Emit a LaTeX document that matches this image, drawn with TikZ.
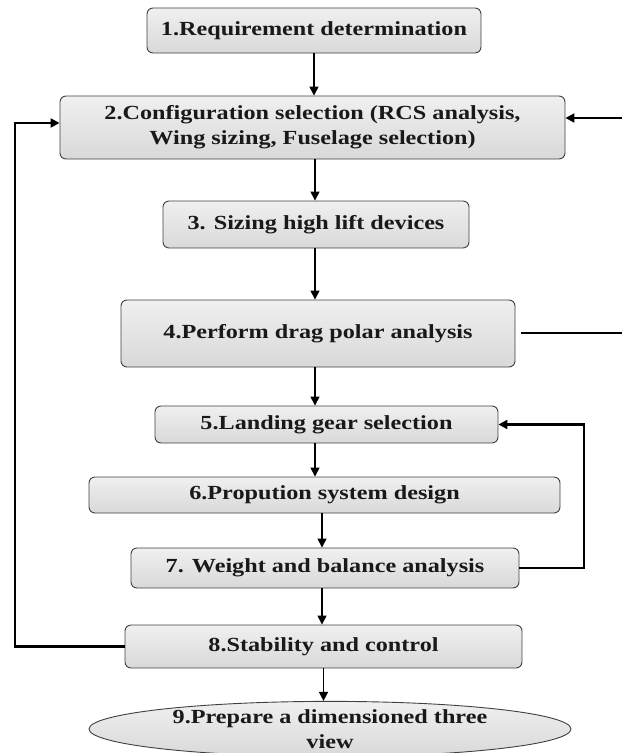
\documentclass[tikz,border=0pt]{standalone}
\usepackage{fontspec}
\setmainfont{Liberation Serif}[FakeStretch=1.21]
\usetikzlibrary{arrows.meta,shapes.geometric}

\begin{document}
\begin{tikzpicture}[x=1pt, y=-1pt,
	every node/.style={font=\fontsize{20}{25}\selectfont\bfseries, text=black!90, align=center},
	stage/.style={draw=black!75, line width=0.9pt, rounded corners=6pt, top color=gray!12, bottom color=gray!30, inner sep=0pt},
	>={Triangle[length=9pt, width=9pt]},
	arr/.style={->, line width=1.4pt},
	loop/.style={line width=2.6pt}]
	\useasboundingbox (0,0) rectangle (622,753);
	\node[stage, minimum width=334pt, minimum height=45pt] (n1) at (314,30.5) {1.Requirement determination};
	\node[stage, minimum width=505pt, minimum height=63pt] (n2) at (312.5,127.5) {2.Configuration selection (RCS analysis,\\ Wing sizing, Fuselage selection)};
	\node[stage, minimum width=306pt, minimum height=47pt] (n3) at (316,224.5) {3. Sizing high lift devices};
	\node[stage, minimum width=394pt, minimum height=67pt] (n4) at (318,333.5) {4.Perform drag polar analysis};
	\node[stage, minimum width=343pt, minimum height=37pt] (n5) at (326.5,424.5) {5.Landing gear selection};
	\node[stage, minimum width=471pt, minimum height=36pt] (n6) at (324.5,495) {6.Propution system design};
	\node[stage, minimum width=388pt, minimum height=40pt] (n7) at (325,568) {7. Weight and balance analysis};
	\node[stage, minimum width=397pt, minimum height=43pt] (n8) at (323.5,646.5) {8.Stability and control};
	\node[stage, ellipse, rounded corners=0pt, minimum width=482pt, minimum height=48pt] (n9) at (330,729) {9.Prepare a dimensioned three\\ view};
	\coordinate (l2) at (15,123);
	\coordinate (r5) at (584,424.5);
	\coordinate (r2) at (622,118);
	\coordinate (r4) at (622,333);

	\draw[arr] (n1.south) -- (n1.south |- n2.north);
	\draw[arr] ([xshift=2.5pt]n2.south) -- ([xshift=2.5pt]n2.south |- n3.north);
	\draw[arr] ([xshift=-1pt]n3.south) -- ([xshift=-1pt]n3.south |- n4.north);
	\draw[arr] ([xshift=-3pt]n4.south) -- ([xshift=-3pt]n4.south |- n5.north);
	\draw[arr] ([xshift=-11.5pt]n5.south) -- ([xshift=-11.5pt]n5.south |- n6.north);
	\draw[arr] ([xshift=-2.5pt]n6.south) -- ([xshift=-2.5pt]n6.south |- n7.north);
	\draw[arr] ([xshift=-3pt]n7.south) -- ([xshift=-3pt]n7.south |- n8.north);
	\draw[arr] (n8.south) -- (n8.south |- n9.north);

	\draw[loop, ->] (n8.west) -| (l2) -- (l2 -| n2.west);
	\draw[loop, ->] (n7.east) -| (r5) -- (n5.east);
	\draw[loop, ->] (r2) -- (n2.east |- r2);
	\draw[loop] ([xshift=6pt]n4.east |- r4) -- (r4);
\end{tikzpicture}
\end{document}
